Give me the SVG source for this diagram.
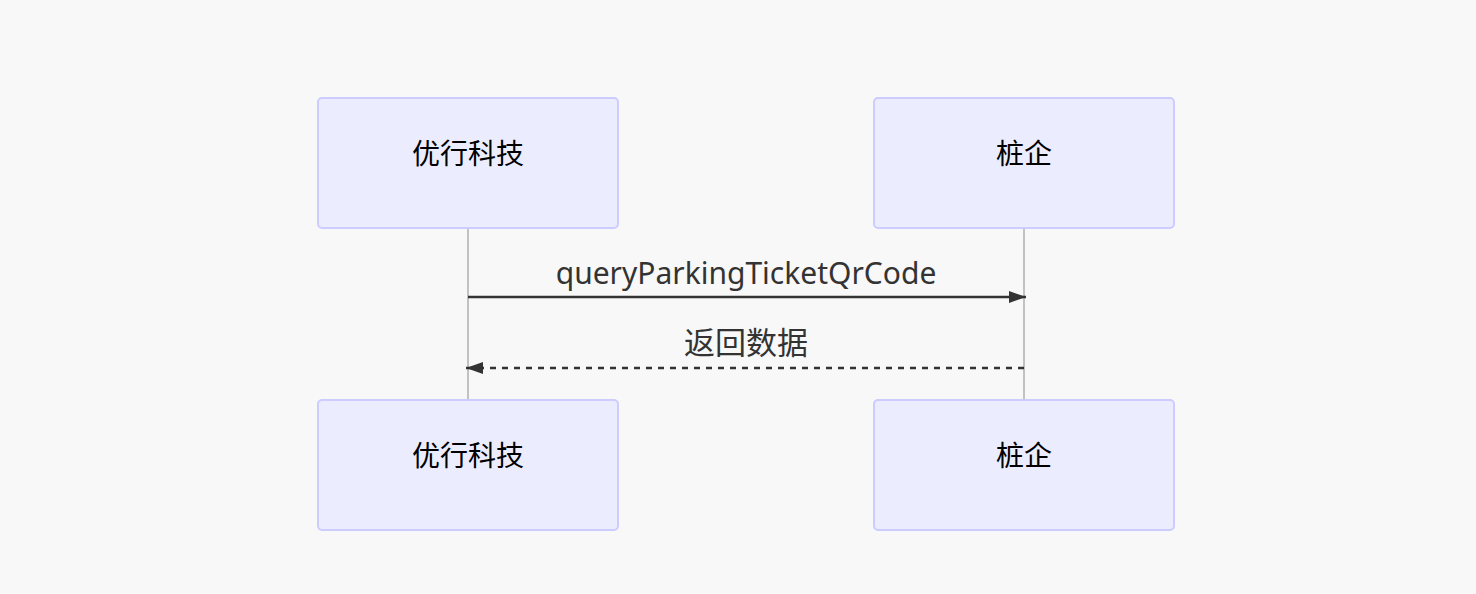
<svg xmlns="http://www.w3.org/2000/svg" width="1476" height="594" viewBox="0 0 1476 594">
<style>
.actor{fill:#ECECFF;stroke:#CCCCFF;stroke-width:2}
.atext{font-family:"Noto Sans CJK SC","Noto Sans",sans-serif;font-size:28px;fill:#000;text-anchor:middle;dominant-baseline:central}
.mtext{font-family:"Noto Sans","Noto Sans CJK SC",sans-serif;font-size:30px;fill:#333;text-anchor:middle}
.life{stroke:#b0b0b0;stroke-width:1.5}
.msg{stroke:#333;stroke-width:2.3;fill:none}
</style>
<defs>
<marker id="arrow" viewBox="0 0 17 12" refX="17" refY="6" markerWidth="17" markerHeight="12" markerUnits="userSpaceOnUse" orient="auto-start-reverse">
<path d="M0,0 L17,6 L0,12 z" fill="#333"/>
</marker>
</defs>
<rect width="1476" height="594" fill="#f8f8f8"/>
<g id="lifelines">
<line class="life" x1="468" y1="228" x2="468" y2="400"/>
<line class="life" x1="1024" y1="228" x2="1024" y2="400"/>
</g>
<g id="actor-youxing-top">
<rect class="actor" x="318" y="98" width="300" height="130" rx="4"/>
<text class="atext" x="468" y="152">优行科技</text>
</g>
<g id="actor-zhuangqi-top">
<rect class="actor" x="874" y="98" width="300" height="130" rx="4"/>
<text class="atext" x="1024" y="152">桩企</text>
</g>
<g id="actor-youxing-bottom">
<rect class="actor" x="318" y="400" width="300" height="130" rx="4"/>
<text class="atext" x="468" y="454">优行科技</text>
</g>
<g id="actor-zhuangqi-bottom">
<rect class="actor" x="874" y="400" width="300" height="130" rx="4"/>
<text class="atext" x="1024" y="454">桩企</text>
</g>
<g id="connectors">
<line class="msg" x1="468" y1="297" x2="1026" y2="297" marker-end="url(#arrow)"/>
<text class="mtext" x="746" y="284">queryParkingTicketQrCode</text>
<line class="msg" x1="1024" y1="368" x2="466" y2="368" stroke-dasharray="6,6" marker-end="url(#arrow)"/>
<text class="mtext" x="746" y="354" style="font-size:31px">返回数据</text>
</g>
</svg>
